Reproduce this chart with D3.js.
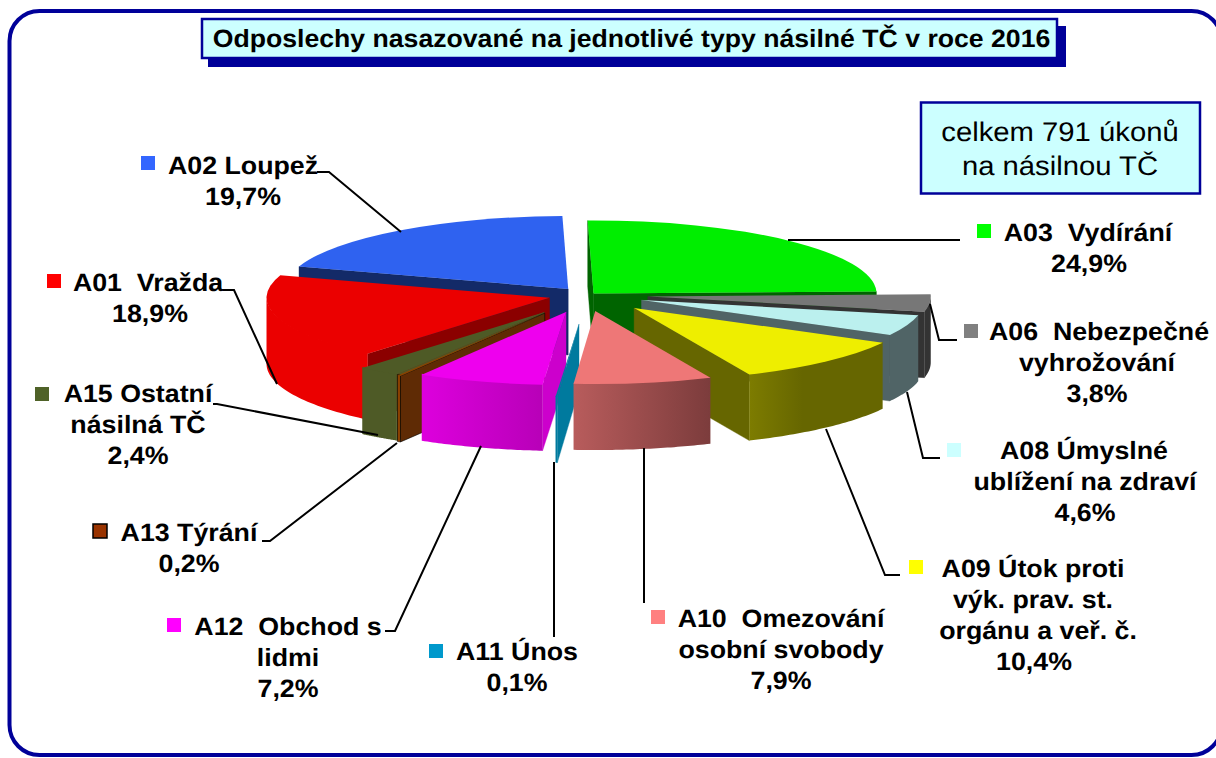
<!DOCTYPE html>
<html><head><meta charset="utf-8">
<script src="https://cdnjs.cloudflare.com/ajax/libs/d3/7.8.5/d3.min.js"></script>
<style>html,body{margin:0;padding:0;background:#fff;overflow:hidden}svg{display:block}text{font-family:"Liberation Sans",Arial,sans-serif;fill:#000;text-rendering:geometricPrecision}</style>
</head><body><svg id="c" width="1216" height="758"></svg>
<script>
// ---------- data ----------
const categories = ["A01","A02","A03","A06","A08","A09","A10","A11","A12","A13","A15"];
const values = [18.9,19.7,24.9,3.8,4.6,10.4,7.9,0.1,7.2,0.2,2.4];
const percentLabels = ["18,9%","19,7%","24,9%","3,8%","4,6%","10,4%","7,9%","0,1%","7,2%","0,2%","2,4%"];
const nameLines = [
  ["A01  Vražda"],["A02 Loupež"],["A03  Vydírání"],["A06  Nebezpečné","vyhrožování"],
  ["A08 Úmyslné","ublížení na zdraví"],["A09 Útok proti","výk. prav. st.","orgánu a veř. č."],
  ["A10  Omezování","osobní svobody"],["A11 Únos"],["A12  Obchod s","lidmi"],["A13 Týrání"],["A15 Ostatní","násilná TČ"]
];
const explodeAmount = [39,29,8,60,57,68,63,113,69,82,82];
const explodeNudgeX = [-1,-2.5,0,0,0,0,-3.5,0,-1,-1,4];
const titleText = "Odposlechy nasazované na jednotlivé typy násilné TČ v roce 2016";
const noteLines = ["celkem 791 úkonů","na násilnou TČ"];

// ---------- styles ----------
const topColors  = ["#eb0000","#2f62f0","#00ee00","#777777","#bbf0ee","#eeee00","#ee7777","#007a9e","#ee00ee","#8a4000","#4e5a26"];
const faceColors = ["#8b0000","#132a68","#006400","#333333","#506466","#666600","#b85c5c","#007a9e","#cc00cc","#5f2b05","#4e5a26"];
const wallStops  = [["#eb0000","#eb0000"],["#132a68","#132a68"],["#006400","#006400"],["#333333","#333333"],["#506466","#506466"],
  ["#7d7c00","#666600"],["#b85c5c","#7c3c3c"],["#007a9e","#007a9e"],["#dd00dd","#b800b8"],["#8a4000","#8a4000"],["#4e5a26","#4e5a26"]];
const wallStopEnd = [1,1,1,1,1,0.4,1,1,1,1,1];
const swatchColors = ["#ff0000","#3366ff","#00ff00","#808080","#ccffff","#ffff00","#ff8080","#0099cc","#ff00ff","#993300","#4f6228"];
const drawOrder = ["A02","A03","A06","A08","A09","A01","A15","A13","A12","A11","A10"];

const NAVY="#000099", R=283, K=0.258, DEPTH=66, CX=588, CY=295;
const startDeg=-140;
const svg=d3.select("#c");
const defs=svg.append("defs");

// frame
svg.append("rect").attr("x",9.5).attr("y",11).attr("width",1212).attr("height",744).attr("rx",30)
  .attr("fill","#fff").attr("stroke",NAVY).attr("stroke-width",4);

// pie layout from the values
const pie=d3.pie().value(d=>d).sort(null)
  .startAngle(startDeg*Math.PI/180).endAngle((startDeg+360)*Math.PI/180);
const arcs=pie(values).map((a,i)=>{
  const mid=(a.startAngle+a.endAngle)/2, e=explodeAmount[i];
  return {...a,i,cat:categories[i],cx:CX+e*Math.sin(mid)+explodeNudgeX[i],cy:CY-e*K*Math.cos(mid)};
});
const P=(s,th,z=0,r=R)=>[s.cx+r*Math.sin(th),s.cy-r*K*Math.cos(th)+z];
const line=d3.line();
const arcGen=d3.arc().innerRadius(0).outerRadius(R);

const pieG=svg.append("g");
drawOrder.forEach(cat=>{
  const s=arcs.find(d=>d.cat===cat), i=s.i, g=pieG.append("g");
  const stroke = cat==="A13"?"#000":null;
  // radial cut faces
  const face=(th)=>{
    g.append("path").attr("d",line([P(s,th,0,0),P(s,th,0),P(s,th,DEPTH),P(s,th,DEPTH,0)])+"Z")
      .attr("fill",faceColors[i]).attr("stroke",cat==="A13"?"#000":faceColors[i]).attr("stroke-width",cat==="A13"?0.6:0.4);
  };
  if(Math.sin(s.startAngle)<0) face(s.startAngle);
  if(Math.sin(s.endAngle)>0) face(s.endAngle);
  // outer wall: the front half of the slice's rim (starts 1px under the top face to avoid a seam)
  const ranges=[[Math.PI/2,3*Math.PI/2],[Math.PI/2-2*Math.PI,3*Math.PI/2-2*Math.PI]];
  ranges.forEach(([lo,hi])=>{
    const a=Math.max(lo,s.startAngle), b=Math.min(hi,s.endAngle);
    if(b<=a) return;
    const ths=d3.range(0,41).map(t=>a+(b-a)*t/40);
    const top=ths.map(t=>P(s,t,-1)), bot=ths.map(t=>P(s,t,DEPTH)).reverse();
    const id="wall"+i;
    const gr=defs.append("linearGradient").attr("id",id);
    gr.append("stop").attr("offset",0).attr("stop-color",wallStops[i][0]);
    gr.append("stop").attr("offset",wallStopEnd[i]).attr("stop-color",wallStops[i][1]);
    g.append("path").attr("d",line(top.concat(bot))+"Z").attr("fill",`url(#${id})`)
      .attr("stroke",stroke).attr("stroke-width",stroke?0.6:null);
  });
  // top face
  g.append("path").attr("transform",`translate(${s.cx},${s.cy}) scale(1,${K})`)
    .attr("d",arcGen({startAngle:s.startAngle,endAngle:s.endAngle}))
    .attr("fill",topColors[i]);
});

// leader lines
const leaders={
  A02:[[317,172],[329,172],[401,232]],
  A01:[[223,290],[234,290],[277,384]],
  A03:[[788,240],[960,240]],
  A06:[[930,304],[939,340],[957,340]],
  A08:[[907,392],[923,458],[940,458]],
  A09:[[826,429],[885,575],[900,575]],
  A10:[[644,448],[644,603]],
  A11:[[554,462],[554,637]],
  A12:[[481,446],[395,631],[385,631]],
  A13:[[397,443],[270,541],[262,541]],
  A15:[[378,435],[217,404],[213,404]]
};
Object.values(leaders).forEach(p=>svg.append("path").attr("d",line(p)).attr("fill","none").attr("stroke","#000").attr("stroke-width",2));

// labels
const labelPos={
  A01:{x:[148,150],y:291,sx:47,sy:274},
  A02:{x:[243,243],y:174,sx:141,sy:156},
  A03:{x:[1088,1089],y:241,sx:977,sy:224},
  A06:{x:[1099,1097,1097],y:340,sx:964,sy:324},
  A08:{x:[1084,1085,1085],y:459,sx:947,sy:443},
  A09:{x:[1033,1033,1038,1034],y:577,sx:909,sy:560},
  A10:{x:[781,781,781],y:627,sx:651,sy:610},
  A11:{x:[517,517],y:660,sx:429,sy:644},
  A12:{x:[288,288,288],y:635,sx:167,sy:618},
  A13:{x:[189,189],y:541,sx:93,sy:524},
  A15:{x:[138,138,138],y:402,sx:35,sy:387}
};
const hText=(g,str,x,y,size,sx,weight)=>g.append("text").attr("transform",`translate(${x},${y}) scale(${sx},1)`)
  .attr("text-anchor","middle").attr("font-size",size).attr("font-weight",weight).style("white-space","pre").text(str);
categories.forEach((c,i)=>{
  const p=labelPos[c], lines=nameLines[i].concat(percentLabels[i]);
  lines.forEach((t,j)=>hText(svg,t,p.x[j],p.y+j*31,25,1.07,"bold"));
  svg.append("rect").attr("x",p.sx).attr("y",p.sy).attr("width",14).attr("height",14)
    .attr("fill",swatchColors[i]).attr("stroke",c==="A13"?"#000":null).attr("stroke-width",c==="A13"?1.5:null);
});

// title
svg.append("rect").attr("x",208).attr("y",26).attr("width",858).attr("height",41).attr("fill",NAVY);
svg.append("rect").attr("x",202).attr("y",19).attr("width",855).attr("height",39).attr("fill","#ccffff").attr("stroke",NAVY).attr("stroke-width",2.5);
hText(svg,titleText,631.5,47,25,1.065,"bold");

// note
svg.append("rect").attr("x",921).attr("y",102.5).attr("width",279).attr("height",91).attr("fill","#ccffff").attr("stroke",NAVY).attr("stroke-width",2.5);
noteLines.forEach((t,j)=>hText(svg,t,1060,141+j*34,27,1.083,"normal"));
</script></body></html>
